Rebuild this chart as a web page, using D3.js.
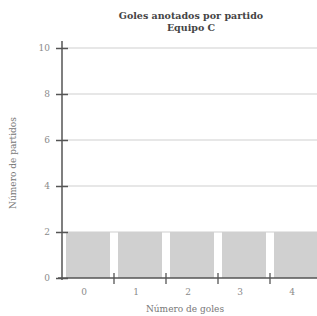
<!DOCTYPE html>
<html>
<head>
<meta charset="utf-8">
<script src="https://cdn.jsdelivr.net/npm/d3@7"></script>
<style>
  body { margin: 0; background: #fff; }
  svg { display: block; }
</style>
</head>
<body>
<div id="chart"></div>
<script>
// goles por partido, equipo C
var goals = [0, 1, 2, 3, 4];
var matches = [2, 2, 2, 2, 2];
var yTicks = [0, 2, 4, 6, 8, 10];

var width = 317, height = 316;
var plotLeft = 62, plotBottom = 278, plotTop = 48;

var svg = d3.select("#chart")
    .append("svg")
    .attr("width", width)
    .attr("height", height);

// bins are one goal wide, the last one runs off the right edge
var x = d3.scaleLinear()
    .domain([0, goals.length])
    .range([plotLeft, plotLeft + 52 * goals.length]);
var y = d3.scaleLinear()
    .domain([0, 10])
    .range([plotBottom, plotTop]);

var data = goals.map(function(g, i) { return {goal: g, n: matches[i]}; });

// grid
svg.append("g")
    .selectAll("line")
    .data(yTicks.slice(1))
    .enter()
    .append("line")
    .attr("x1", plotLeft)
    .attr("x2", width)
    .attr("y1", d => y(d))
    .attr("y2", d => y(d))
    .attr("stroke", "#cfcfcf")
    .attr("stroke-width", 1);

// bars
var pad = 4;
svg.append("g")
    .selectAll("rect")
    .data(data)
    .enter()
    .append("rect")
    .attr("x", d => x(d.goal) + pad)
    .attr("width", d => x(d.goal + 1) - x(d.goal) - 2 * pad)
    .attr("y", d => y(d.n))
    .attr("height", d => y(0) - y(d.n))
    .attr("fill", "#d0d0d0");

// y axis
var yAxis = svg.append("g")
    .attr("transform", "translate(" + plotLeft + ",0)")
    .call(d3.axisLeft(y).tickValues(yTicks).tickSize(6).tickPadding(6));
yAxis.select(".domain").remove();
yAxis.append("line")
    .attr("y1", 41).attr("y2", plotBottom + 2)
    .attr("stroke", "#555").attr("stroke-width", 1.5);
yAxis.selectAll(".tick line")
    .attr("x1", -6).attr("x2", 6)
    .attr("stroke", "#555").attr("stroke-width", 1.5);
yAxis.selectAll(".tick text")
    .attr("fill", "#8a8a8a")
    .attr("font-family", "DejaVu Serif, serif")
    .attr("font-size", "9px");

// x axis: ticks on the bin edges, labels in the middle of each bin
var xAxis = svg.append("g")
    .attr("transform", "translate(0," + plotBottom + ")");
xAxis.append("line")
    .attr("x1", plotLeft - 4).attr("x2", width)
    .attr("stroke", "#555").attr("stroke-width", 1.5);
xAxis.selectAll(".edge")
    .data(goals.slice(1))
    .enter()
    .append("line")
    .attr("class", "edge")
    .attr("x1", d => x(d)).attr("x2", d => x(d))
    .attr("y1", -5).attr("y2", 6)
    .attr("stroke", "#555").attr("stroke-width", 1.3);
xAxis.selectAll(".lbl")
    .data(goals)
    .enter()
    .append("text")
    .attr("class", "lbl")
    .attr("x", d => x(d + 0.5) - 4)
    .attr("y", 17)
    .attr("text-anchor", "middle")
    .attr("fill", "#8a8a8a")
    .attr("font-family", "DejaVu Serif, serif")
    .attr("font-size", "9px")
    .text(d => d);

// titles
var title = svg.append("text")
    .attr("x", 191)
    .attr("text-anchor", "middle")
    .attr("fill", "#444")
    .attr("font-family", "DejaVu Serif, serif")
    .attr("font-weight", "bold")
    .attr("font-size", "9.5px");
title.append("tspan").attr("x", 191).attr("y", 19).text("Goles anotados por partido");
title.append("tspan").attr("x", 191).attr("y", 31).text("Equipo C");

svg.append("text")
    .attr("x", 185)
    .attr("y", 312)
    .attr("text-anchor", "middle")
    .attr("fill", "#777")
    .attr("font-family", "DejaVu Serif, serif")
    .attr("font-size", "9px")
    .text("Número de goles");

svg.append("text")
    .attr("transform", "translate(16,163) rotate(-90)")
    .attr("text-anchor", "middle")
    .attr("fill", "#777")
    .attr("font-family", "DejaVu Serif, serif")
    .attr("font-size", "9px")
    .text("Número de partidos");
</script>
</body>
</html>
